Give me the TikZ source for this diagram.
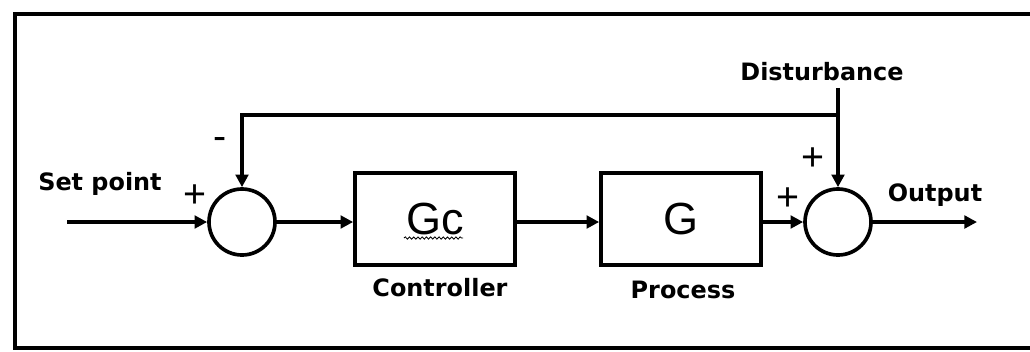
\documentclass[tikz,border=0pt]{standalone}
\usepackage{fontspec}
\setmainfont{DejaVu Sans}
\newfontfamily\arialfont{Liberation Sans}
\usetikzlibrary{arrows.meta,decorations.pathmorphing}

\begin{document}
\begin{tikzpicture}[x=0.025cm,y=-0.025cm,line width=2.6pt,
  >={Triangle[length=9pt,width=9pt]},
  lbl/.style={font=\fontsize{17}{20}\selectfont\bfseries},
  sgn/.style={font=\arialfont\fontsize{28}{30}\selectfont},
  blk/.style={draw,minimum width=4cm,minimum height=2.3cm,inner sep=0pt,
    font=\arialfont\fontsize{32}{34}\selectfont},
  sum/.style={draw,circle,minimum size=1.65cm,inner sep=0pt}]

\useasboundingbox (0,0) rectangle (1030,351);

% Cadre
\draw (1040,14) -- (15,14) -- (15,348) -- (1040,348);

% Blocs
\node[sum] (sum1) at (242,222) {};
\node[blk] (ctrl) at (435,219) {Gc};
\node[blk] (proc) at (681,219) {G};
\node[sum] (sum2) at (838,222) {};

% Soulignement ondulé
\draw[line width=0.6pt,decorate,decoration={snake,amplitude=0.8pt,segment length=3pt}]
  (404,238) -- (463,238);

% Entrée et sortie
\coordinate (sp) at (67,222);
\coordinate (out) at (977,222);
\coordinate (jn) at (838,115);

% Textes
\node[lbl] (splbl) at (100,184) {Set point};
\node[lbl] (ctrllbl) at (440,288) {Controller};
\node[lbl] (proclbl) at (683,290) {Process};
\node[lbl] (dist) at (822,72) {Disturbance};
\node[lbl] (outlbl) at (935,195) {Output};

% Signes
\node[sgn] (p1) at (195,196) {+};
\node[sgn] (m1) at (220,143) {-};
\node[sgn] (p2) at (813,159) {+};
\node[sgn] (p3) at (788,199) {+};

% Liaisons
\draw[->] (sp) -- (sum1.west);
\draw[->] (sum1.east) -- (sum1.east -| ctrl.west);
\draw[->] (sum1.east -| ctrl.east) -- (sum1.east -| proc.west);
\draw[->] (sum2.west -| proc.east) -- (sum2.west);
\draw[->] (sum2.east) -- (out);
\draw[->] (dist.south -| sum2) -- (sum2.north);

% Retour
\draw[->] (jn) -- (jn -| sum1) -- (sum1.north);

\end{tikzpicture}
\end{document}
